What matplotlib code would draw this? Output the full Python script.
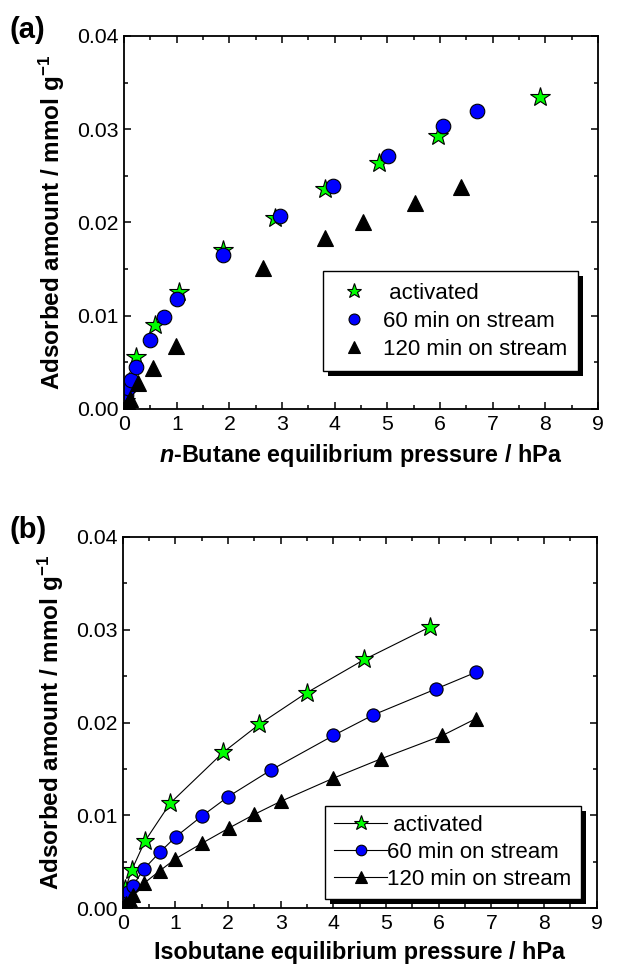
import numpy as np
import matplotlib
matplotlib.use("Agg")
import matplotlib.pyplot as plt
from matplotlib.patches import Rectangle
from matplotlib.ticker import MultipleLocator, FormatStrFormatter

plt.rcParams['font.family'] = ['Liberation Sans', 'DejaVu Sans']
plt.rcParams['mathtext.fontset'] = 'custom'
plt.rcParams['mathtext.rm'] = 'Liberation Sans:bold'
plt.rcParams['mathtext.it'] = 'Liberation Sans:bold:italic'

labels = [" activated", "60 min on stream", "120 min on stream"]

# (a) n-butane
a_act_x = [0.02, 0.05, 0.10, 0.23, 0.58, 1.04, 1.87, 2.86, 3.81, 4.84, 5.97, 7.89]
a_act_y = [0.0008, 0.0017, 0.0029, 0.0056, 0.0090, 0.0125, 0.0170, 0.0205, 0.0236, 0.0264, 0.0293, 0.0334]
a_60_x = [0.02, 0.04, 0.08, 0.14, 0.23, 0.49, 0.76, 1.01, 1.87, 2.96, 3.97, 5.02, 6.06, 6.71]
a_60_y = [0.0007, 0.0015, 0.0022, 0.0031, 0.0045, 0.0074, 0.0099, 0.0118, 0.0165, 0.0207, 0.0239, 0.0271, 0.0303, 0.0320]
a_120_x = [0.02, 0.04, 0.07, 0.11, 0.27, 0.55, 0.99, 2.64, 3.81, 4.53, 5.53, 6.39]
a_120_y = [0.0001, 0.0002, 0.0006, 0.0011, 0.0028, 0.0044, 0.0067, 0.0151, 0.0183, 0.0200, 0.0221, 0.0238]

# (b) isobutane
b_act_x = [0.02, 0.05, 0.17, 0.42, 0.90, 1.91, 2.59, 3.49, 4.59, 5.83]
b_act_y = [0.0010, 0.0021, 0.0041, 0.0072, 0.0113, 0.0168, 0.0198, 0.0232, 0.0268, 0.0303]
b_60_x = [0.02, 0.05, 0.10, 0.19, 0.40, 0.70, 1.01, 1.50, 2.00, 2.82, 4.00, 4.75, 5.94, 6.70]
b_60_y = [0.0005, 0.0010, 0.0017, 0.0024, 0.0042, 0.0060, 0.0077, 0.0099, 0.0120, 0.0149, 0.0186, 0.0208, 0.0236, 0.0254]
b_120_x = [0.02, 0.06, 0.13, 0.19, 0.41, 0.70, 1.00, 1.51, 2.01, 2.50, 3.00, 4.00, 4.91, 6.07, 6.70]
b_120_y = [0.0002, 0.0005, 0.0009, 0.0014, 0.0027, 0.0040, 0.0053, 0.0070, 0.0086, 0.0101, 0.0115, 0.0140, 0.0161, 0.0186, 0.0204]

fig = plt.figure(figsize=(6.43, 9.73), dpi=100)
ax1 = fig.add_axes([0.193, 0.5797, 0.737, 0.3834])
ax2 = fig.add_axes([0.191, 0.0668, 0.737, 0.3813])


def style_axes(ax, xlabel):
    ax.set_xlim(0, 9)
    ax.set_ylim(0, 0.04)
    ax.xaxis.set_major_locator(MultipleLocator(1))
    ax.xaxis.set_minor_locator(MultipleLocator(0.5))
    ax.yaxis.set_major_locator(MultipleLocator(0.01))
    ax.yaxis.set_minor_locator(MultipleLocator(0.005))
    ax.yaxis.set_major_formatter(FormatStrFormatter('%.2f'))
    ax.tick_params(which='both', direction='in', top=True, right=True, width=1.1)
    ax.tick_params(which='major', length=5, labelsize=15.3, pad=4)
    ax.tick_params(which='minor', length=3)
    for s in ax.spines.values():
        s.set_linewidth(1.3)
    ax.set_xlabel(xlabel, fontsize=16.8, fontweight='bold', labelpad=6)
    ax.set_ylabel("Adsorbed amount / mmol g$^{-1}$", fontsize=17.5, fontweight='bold', labelpad=7)


def add_shadow(ax, leg, off=5):
    fig.canvas.draw()
    bb = leg.get_frame().get_window_extent()
    inv = ax.transAxes.inverted()
    x0, y0 = inv.transform((bb.x0 + off, bb.y0 - off))
    x1, y1 = inv.transform((bb.x1 + off, bb.y1 - off))
    ax.add_patch(Rectangle((x0, y0), x1 - x0, y1 - y0, transform=ax.transAxes,
                           facecolor='black', edgecolor='none', zorder=4.9, clip_on=False))


# panel (a): markers only
ax1.plot(a_act_x, a_act_y, ls='none', marker='*', ms=15, mfc='#00ff00', mec='black', mew=0.8, label=labels[0])
ax1.plot(a_60_x, a_60_y, ls='none', marker='o', ms=10.5, mfc='#0000ff', mec='black', mew=0.8, label=labels[1])
ax1.plot(a_120_x, a_120_y, ls='none', marker='^', ms=11.5, mfc='black', mec='black', mew=0.8, label=labels[2])
style_axes(ax1, "$n$-Butane equilibrium pressure / hPa")
leg1 = ax1.legend(loc='lower right', bbox_to_anchor=(0.958, 0.102), borderaxespad=0, fontsize=16,
                  fancybox=False, framealpha=1, edgecolor='black', markerscale=0.75,
                  handlelength=1.8, handletextpad=0.4, labelspacing=0.32, borderpad=0.5)
leg1.get_frame().set_linewidth(1.0)

# panel (b): markers with lines
ax2.plot(b_act_x, b_act_y, color='black', lw=0.8, marker='*', ms=14, mfc='#00ff00', mec='black', mew=0.8, label=labels[0])
ax2.plot(b_60_x, b_60_y, color='black', lw=0.8, marker='o', ms=9.5, mfc='#0000ff', mec='black', mew=0.8, label=labels[1])
ax2.plot(b_120_x, b_120_y, color='black', lw=0.8, marker='^', ms=10.5, mfc='black', mec='black', mew=0.8, label=labels[2])
style_axes(ax2, "Isobutane equilibrium pressure / hPa")
leg2 = ax2.legend(loc='lower right', bbox_to_anchor=(0.966, 0.024), borderaxespad=0, fontsize=16,
                  fancybox=False, framealpha=1, edgecolor='black', markerscale=0.8,
                  handlelength=2.4, handletextpad=0.0, labelspacing=0.28, borderpad=0.4)
leg2.get_frame().set_linewidth(1.0)

fig.text(0.015, 0.969, "(a)", fontsize=21, fontweight='bold', va='center')
fig.text(0.015, 0.455, "(b)", fontsize=21, fontweight='bold', va='center')

add_shadow(ax1, leg1)
add_shadow(ax2, leg2)

fig.savefig("out.png", dpi=100)
